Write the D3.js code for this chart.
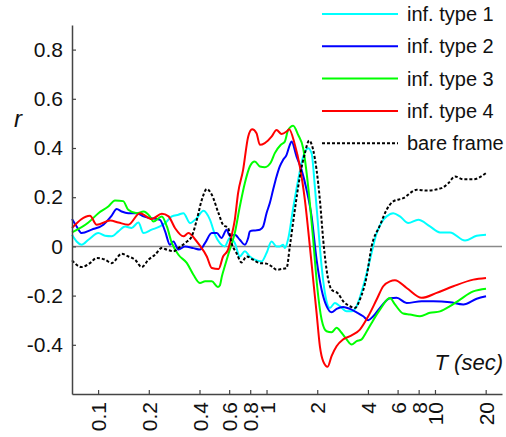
<!DOCTYPE html>
<html>
<head>
<meta charset="utf-8">
<script src="https://cdn.jsdelivr.net/npm/d3@7"></script>
<style>
  html, body { margin: 0; padding: 0; background: #fff; }
  svg { display: block; font-family: "Liberation Sans", Arial, sans-serif; }
</style>
</head>
<body>
<svg id="chart" width="506" height="437"></svg>
<script>
// Correlation r versus integration time T (seconds), per stimulus type.
// Each series is a list of [T, r] samples.
const type1 = [
  [0.070,0.047],[0.0746,0.02],[0.0799,0.007],[0.0876,0.027],[0.1004,0.054],[0.1099,0.043],
  [0.1204,0.041],[0.132,0.061],[0.1445,0.081],[0.158,0.075],[0.1735,0.097],[0.186,0.054],
  [0.208,0.068],[0.233,0.081],[0.250,0.095],[0.274,0.122],[0.300,0.129],[0.321,0.135],
  [0.352,0.095],[0.385,0.115],[0.422,0.145],[0.462,0.108],[0.495,0.047],[0.530,0.012],
  [0.565,0.0],[0.605,0.034],[0.648,0.014],[0.694,-0.041],[0.743,-0.02],[0.796,-0.041],
  [0.852,-0.054],[0.934,-0.061],[1.0,-0.027],[1.071,0.02],[1.147,0.0],[1.199,0.0],
  [1.255,0.007],[1.284,-0.007],[1.344,0.03],[1.439,0.155],[1.541,0.27],[1.65,0.365],
  [1.767,0.399],[1.851,0.379],[1.936,0.243],[2.026,0.081],[2.123,-0.081],[2.221,-0.189],
  [2.377,-0.25],[2.545,-0.23],[2.725,-0.243],[2.987,-0.264],[3.199,-0.264],[3.426,-0.243],
  [3.75,-0.162],[4.111,-0.054],[4.505,0.054],[4.93,0.108],[5.165,0.122],[5.653,0.135],
  [6.194,0.122],[6.939,0.095],[7.958,0.108],[9.339,0.081],[10.71,0.057],[12.28,0.057],
  [15.08,0.024],[17.69,0.043],[20.09,0.047]
];
const type2 = [
  [0.070,0.111],[0.0746,0.081],[0.0799,0.054],[0.0916,0.068],[0.1075,0.088],[0.1204,0.125],
  [0.129,0.152],[0.138,0.142],[0.151,0.135],[0.170,0.135],[0.186,0.122],[0.208,0.115],
  [0.223,0.111],[0.233,0.108],[0.250,0.061],[0.267,0.007],[0.280,0.02],[0.300,-0.013],
  [0.328,0.0],[0.368,-0.007],[0.403,-0.013],[0.432,0.014],[0.473,0.054],[0.507,0.054],
  [0.540,0.034],[0.579,0.068],[0.605,0.043],[0.648,0.047],[0.694,0.027],[0.743,0.007],
  [0.778,0.034],[0.796,0.061],[0.852,0.065],[0.913,0.068],[0.955,0.081],[1.0,0.135],
  [1.046,0.176],[1.094,0.23],[1.147,0.284],[1.199,0.325],[1.255,0.352],[1.315,0.372],
  [1.375,0.413],[1.407,0.426],[1.508,0.365],[1.614,0.311],[1.729,0.23],[1.851,0.122],
  [1.982,-0.054],[2.123,-0.176],[2.273,-0.243],[2.433,-0.268],[2.605,-0.254],[2.851,-0.246],
  [3.126,-0.254],[3.426,-0.268],[3.75,-0.284],[4.016,-0.30],[4.30,-0.284],[4.713,-0.25],
  [5.403,-0.211],[5.922,-0.209],[6.788,-0.23],[8.337,-0.223],[9.771,-0.223],[12.28,-0.227],
  [14.73,-0.236],[17.69,-0.213],[20.09,-0.203]
];
const type3 = [
  [0.070,0.057],[0.0876,0.097],[0.1004,0.135],[0.115,0.162],[0.126,0.187],[0.141,0.184],
  [0.151,0.149],[0.170,0.135],[0.186,0.142],[0.203,0.122],[0.213,0.101],[0.239,0.122],
  [0.256,0.081],[0.274,0.014],[0.300,-0.034],[0.336,-0.067],[0.368,-0.115],[0.403,-0.149],
  [0.432,-0.142],[0.473,-0.142],[0.514,-0.165],[0.528,-0.159],[0.543,-0.122],[0.565,-0.081],
  [0.605,-0.013],[0.648,0.054],[0.694,0.162],[0.743,0.257],[0.796,0.325],[0.852,0.345],
  [0.913,0.325],[0.977,0.322],[1.06,0.341],[1.12,0.379],[1.216,0.413],[1.284,0.426],
  [1.344,0.473],[1.439,0.49],[1.541,0.453],[1.65,0.399],[1.767,0.243],[1.892,0.027],
  [1.998,-0.162],[2.123,-0.297],[2.273,-0.345],[2.433,-0.349],[2.605,-0.331],[2.789,-0.351],
  [2.987,-0.378],[3.199,-0.399],[3.426,-0.385],[3.668,-0.378],[3.891,-0.351],[4.207,-0.311],
  [4.713,-0.257],[5.403,-0.21],[5.786,-0.236],[6.481,-0.273],[7.102,-0.277],[8.146,-0.284],
  [9.339,-0.27],[10.71,-0.264],[12.28,-0.243],[14.08,-0.216],[16.89,-0.183],[20.09,-0.172]
];
const type4 = [
  [0.070,0.075],[0.0895,0.125],[0.0981,0.088],[0.118,0.105],[0.132,0.097],[0.151,0.088],
  [0.177,0.135],[0.208,0.111],[0.239,0.133],[0.262,0.122],[0.286,0.075],[0.321,0.041],
  [0.344,0.054],[0.375,0.03],[0.395,0.01],[0.442,-0.041],[0.473,-0.088],[0.519,-0.092],
  [0.552,-0.041],[0.591,-0.013],[0.619,0.041],[0.648,0.108],[0.678,0.217],[0.726,0.311],
  [0.778,0.446],[0.821,0.476],[0.872,0.46],[0.913,0.413],[0.977,0.42],[1.071,0.446],
  [1.147,0.473],[1.228,0.457],[1.315,0.467],[1.362,0.476],[1.473,0.413],[1.577,0.325],
  [1.689,0.189],[1.808,0.0],[1.892,-0.135],[1.982,-0.27],[2.074,-0.406],[2.17,-0.467],
  [2.305,-0.489],[2.433,-0.446],[2.605,-0.406],[2.851,-0.378],[3.199,-0.362],[3.584,-0.338],
  [4.016,-0.284],[4.505,-0.216],[4.93,-0.162],[5.403,-0.142],[5.786,-0.138],[6.788,-0.169],
  [8.337,-0.209],[10.23,-0.189],[12.85,-0.162],[16.89,-0.135],[20.09,-0.128]
];
const bareFrame = [
  [0.070,-0.057],[0.0799,-0.084],[0.0895,-0.068],[0.0981,-0.047],[0.1099,-0.054],[0.1204,-0.068],
  [0.1381,-0.03],[0.1514,-0.041],[0.1657,-0.054],[0.1816,-0.084],[0.199,-0.054],[0.2178,-0.034],
  [0.2387,-0.007],[0.2556,-0.013],[0.2802,-0.02],[0.300,-0.007],[0.3283,0.014],[0.3598,0.041],
  [0.3854,0.108],[0.4127,0.189],[0.4419,0.233],[0.4732,0.21],[0.5186,0.135],[0.5523,0.088],
  [0.5914,0.075],[0.6194,0.014],[0.6632,-0.027],[0.7103,-0.065],[0.7607,-0.041],[0.8326,-0.054],
  [0.9125,-0.068],[1.0,-0.07],[1.071,-0.081],[1.147,-0.095],[1.228,-0.092],[1.315,-0.088],
  [1.375,0.0],[1.473,0.149],[1.577,0.284],[1.689,0.379],[1.791,0.43],[1.892,0.392],
  [1.982,0.311],[2.074,0.189],[2.17,0.027],[2.273,-0.095],[2.433,-0.176],[2.663,-0.192],
  [2.851,-0.223],[3.126,-0.243],[3.347,-0.25],[3.584,-0.216],[3.929,-0.122],[4.207,0.0],
  [4.713,0.085],[5.165,0.149],[5.653,0.183],[6.481,0.196],[7.786,0.23],[8.926,0.227],
  [10.96,0.237],[12.0,0.257],[13.15,0.284],[14.73,0.273],[16.89,0.273],[20.09,0.298]
];

const seriesNames = ["inf. type 1", "inf. type 2", "inf. type 3", "inf. type 4", "bare frame"];
const seriesData = [type1, type2, type3, type4, bareFrame];
const seriesColors = ["#00ffff", "#0000ff", "#00ff00", "#ff0000", "#000000"];
const seriesDash = [null, null, null, null, "3,2"];

const xTicks = [0.1, 0.2, 0.4, 0.6, 0.8, 1, 2, 4, 6, 8, 10, 20];
const yTicks = [-0.4, -0.2, 0, 0.2, 0.4, 0.6, 0.8];

const svg = d3.select("#chart");

const x = d3.scaleLog().domain([0.07, 25]).range([72, 502]);
const y = d3.scaleLinear().domain([-0.6, 0.9]).range([394, 25]);

// zero reference line
svg.append("line")
  .attr("x1", x.range()[0]).attr("x2", x.range()[1])
  .attr("y1", y(0)).attr("y2", y(0))
  .attr("stroke", "#8a8a8a").attr("stroke-width", 1.5);

// series
const line = d3.line()
  .x(d => x(d[0]))
  .y(d => y(d[1]))
  .curve(d3.curveMonotoneX);

svg.append("g").selectAll("path")
  .data(seriesData)
  .join("path")
  .attr("d", line)
  .attr("fill", "none")
  .attr("stroke", (d, i) => seriesColors[i])
  .attr("stroke-width", 2)
  .attr("stroke-dasharray", (d, i) => seriesDash[i])
  .attr("stroke-linejoin", "round");

// axes
const yAxis = d3.axisLeft(y)
  .tickValues(yTicks)
  .tickFormat(d => String(d))
  .tickSizeInner(-4)
  .tickSizeOuter(0)
  .tickPadding(9);

const gy = svg.append("g").attr("transform", `translate(${x.range()[0]},0)`).call(yAxis);
gy.selectAll("text").attr("font-size", 21).attr("font-family", "Liberation Sans, Arial, sans-serif").attr("fill", "#111");

const xAxis = d3.axisBottom(x)
  .tickValues(xTicks)
  .tickFormat(d => String(d))
  .tickSizeInner(-4)
  .tickSizeOuter(0);

const gx = svg.append("g").attr("transform", `translate(0,${y.range()[0]})`).call(xAxis);
gx.selectAll("text")
  .attr("font-size", 21)
  .attr("font-family", "Liberation Sans, Arial, sans-serif")
  .attr("fill", "#111")
  .attr("x", -8).attr("y", 0).attr("dy", "0.36em")
  .attr("transform", "rotate(-90)")
  .style("text-anchor", "end");

[gx, gy].forEach(g => {
  g.select(".domain").attr("stroke", "#444").attr("stroke-width", 1.5);
  g.selectAll(".tick line").attr("stroke", "#444").attr("stroke-width", 1.2);
});

// axis titles
svg.append("text")
  .attr("x", 14).attr("y", 127)
  .attr("font-size", 24).attr("font-style", "italic")
  .attr("fill", "#111")
  .text("r");

svg.append("text")
  .attr("x", 503).attr("y", 370)
  .attr("text-anchor", "end")
  .attr("font-size", 22).attr("font-style", "italic")
  .attr("fill", "#111")
  .text("T (sec)");

// legend
const legend = svg.append("g").attr("transform", "translate(322,14)");
const rows = legend.selectAll("g")
  .data(seriesNames)
  .join("g")
  .attr("transform", (d, i) => `translate(0,${i * 32.3})`);
rows.append("line")
  .attr("x1", 0).attr("x2", 76)
  .attr("stroke", (d, i) => seriesColors[i])
  .attr("stroke-width", 2)
  .attr("stroke-dasharray", (d, i) => seriesDash[i]);
rows.append("text")
  .attr("x", 85).attr("dy", "0.35em")
  .attr("font-size", 20)
  .attr("fill", "#111")
  .text(d => d);
</script>
</body>
</html>
